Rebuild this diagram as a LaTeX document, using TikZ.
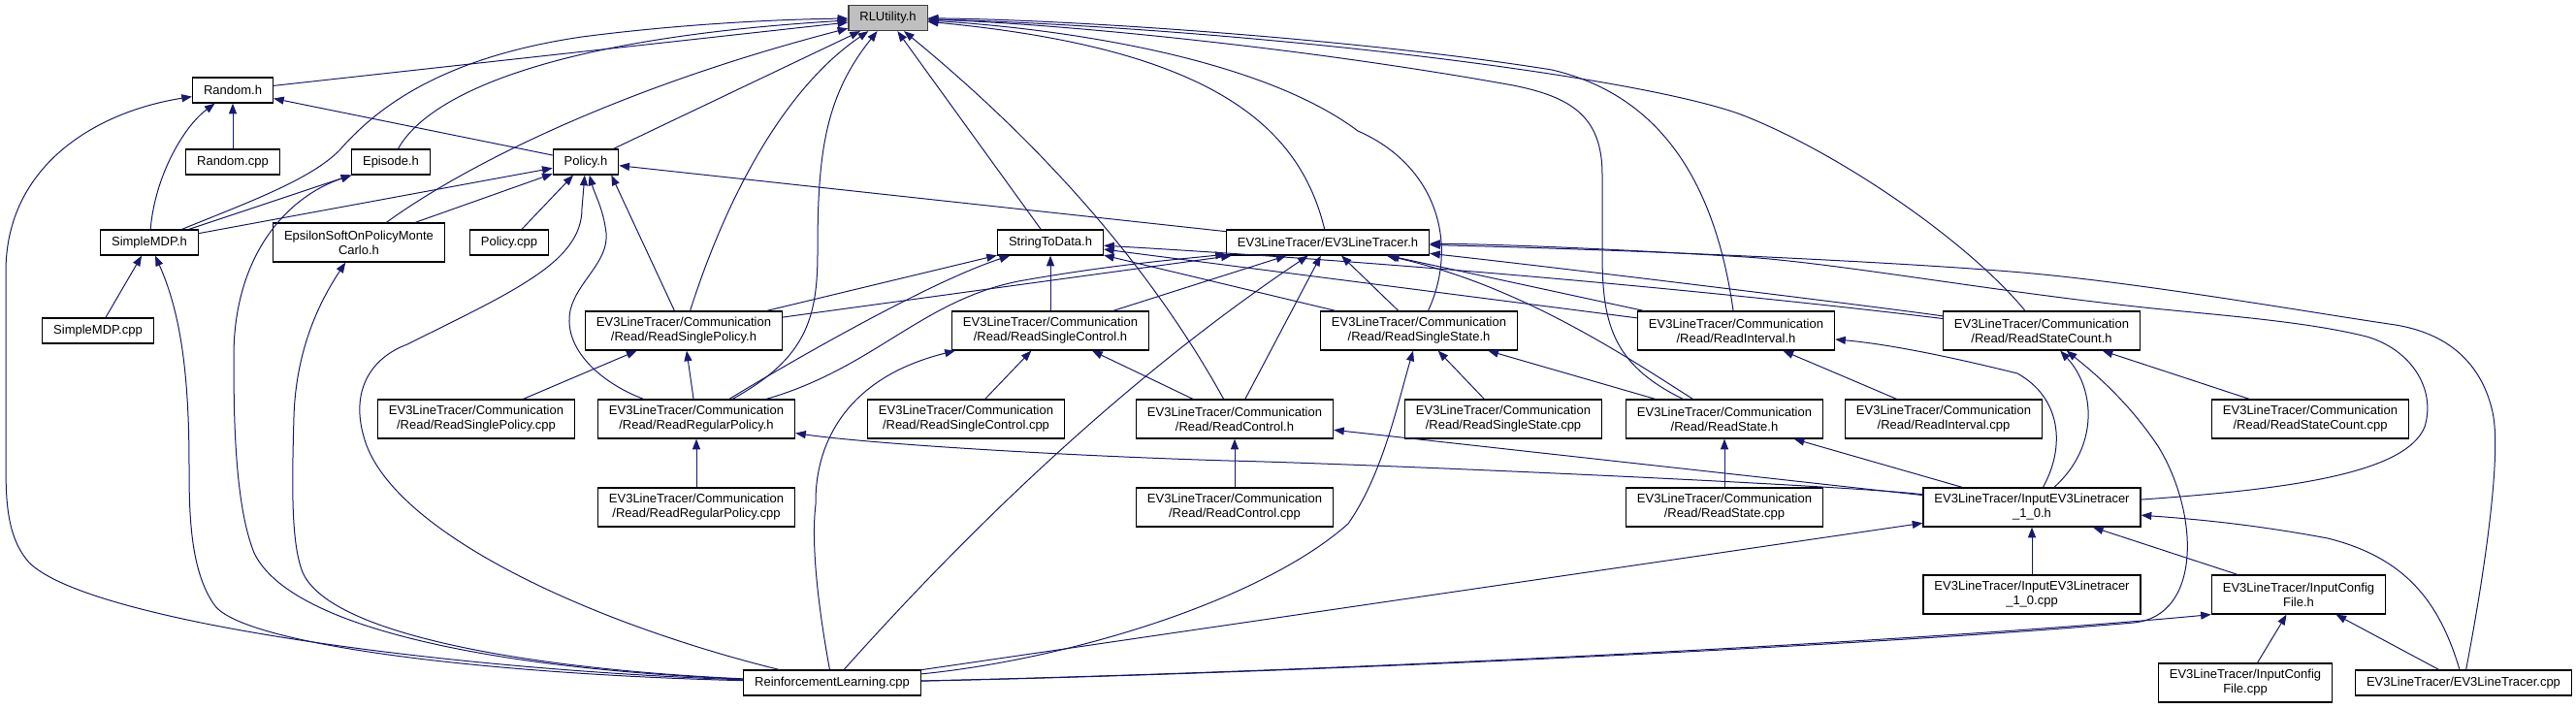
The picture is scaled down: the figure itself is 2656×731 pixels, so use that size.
\documentclass[tikz,border=0pt]{standalone}
\usepackage{fontspec}
\setmainfont{Liberation Sans}
\usetikzlibrary{arrows.meta,calc}
\definecolor{edgec}{RGB}{25,25,112}
\definecolor{rlfill}{RGB}{191,191,191}
\definecolor{rlborder}{RGB}{64,64,64}
\newcommand\cpth{EV3LineTracer/Communication\\/Read/}
\begin{document}
\begin{tikzpicture}[x=0.75pt,y=-0.75pt,
  box/.style={draw=black,line width=0.9pt,fill=white,inner xsep=8.6pt,inner ysep=0pt,minimum height=19.5pt,align=center,font=\fontsize{9.75}{11.25}\selectfont},
  dbl/.style={box,minimum height=30pt},
  focus/.style={box,fill=rlfill,draw=rlborder},
  edge/.style={draw=edgec,line width=0.75pt,-{Triangle[length=8pt,width=6pt]}}]
\useasboundingbox (0,0) rectangle (2656,731);
% nodes
\node[focus] (rl) at (915.5,18.5) {RLUtility.h};
\node[box] (rnd) at (240,93) {Random.h};
\node[box] (rndc) at (240,167) {Random.cpp};
\node[box] (epi) at (403,167) {Episode.h};
\node[box] (pol) at (604,167) {Policy.h};
\node[box] (smdp) at (154,250) {SimpleMDP.h};
\node[dbl] (eps) at (370,250) {EpsilonSoftOnPolicyMonte\\Carlo.h};
\node[box] (polc) at (525,250) {Policy.cpp};
\node[box] (std) at (1083,250) {StringToData.h};
\node[box] (ev3) at (1369,250) {EV3LineTracer/EV3LineTracer.h};
\node[box] (smdpc) at (101,341) {SimpleMDP.cpp};
\node[dbl] (rsp) at (705,341) {\cpth ReadSinglePolicy.h};
\node[dbl] (rsc) at (1083,341) {\cpth ReadSingleControl.h};
\node[dbl] (rss) at (1463,341) {\cpth ReadSingleState.h};
\node[dbl] (rint) at (1790,341) {\cpth ReadInterval.h};
\node[dbl] (rsct) at (2105,341) {\cpth ReadStateCount.h};
\node[dbl] (rspc) at (491,432) {\cpth ReadSinglePolicy.cpp};
\node[dbl] (rrp) at (718,432) {\cpth ReadRegularPolicy.h};
\node[dbl] (rscc) at (996,432) {\cpth ReadSingleControl.cpp};
\node[dbl] (rctl) at (1273,432) {\cpth ReadControl.h};
\node[dbl] (rssc) at (1550,432) {\cpth ReadSingleState.cpp};
\node[dbl] (rst) at (1778,432) {\cpth ReadState.h};
\node[dbl] (rintc) at (2004,432) {\cpth ReadInterval.cpp};
\node[dbl] (rsctc) at (2382,432) {\cpth ReadStateCount.cpp};
\node[dbl] (rrpc) at (718,523) {\cpth ReadRegularPolicy.cpp};
\node[dbl] (rctlc) at (1273,523) {\cpth ReadControl.cpp};
\node[dbl] (rstc) at (1778,523) {\cpth ReadState.cpp};
\node[dbl] (in10) at (2095,523) {EV3LineTracer/InputEV3Linetracer\\\_1\_0.h};
\node[dbl] (in10c) at (2095,613) {EV3LineTracer/InputEV3Linetracer\\\_1\_0.cpp};
\node[dbl] (icf) at (2370,613) {EV3LineTracer/InputConfig\\File.h};
\node[box] (rlc) at (858,704) {ReinforcementLearning.cpp};
\node[dbl] (icfc) at (2315,704) {EV3LineTracer/InputConfig\\File.cpp};
\node[box] (ev3c) at (2540,704) {EV3LineTracer/EV3LineTracer.cpp};
% edges into RLUtility.h
\draw[edge] (rnd) -- (rl);
\draw[edge] (smdp) .. controls (260,207) and (320,185) .. (350,155) .. controls (385,115) and (450,60) .. (600,38) .. controls (700,25) and (800,20) .. (rl);
\draw[edge] (epi) .. controls (440,100) and (560,40) .. (rl);
\draw[edge] (eps) .. controls (480,170) and (640,90) .. (rl);
\draw[edge] (pol) -- (rl);
\draw[edge] (rsp) .. controls (750,200) and (810,90) .. (rl);
\draw[edge] (rrp) .. controls (830,370) and (843,330) .. (843,260) .. controls (843,160) and (850,100) .. (rl);
\draw[edge] (std) -- (rl);
\draw[edge] (rctl) .. controls (1200,300) and (1100,170) .. (rl);
\draw[edge] (ev3) .. controls (1340,130) and (1250,50) .. (rl);
\draw[edge] (rss) .. controls (1505,250) and (1480,170) .. (1400,135) .. controls (1300,60) and (1100,30) .. (rl);
\draw[edge] (rst) .. controls (1660,375) and (1652,330) .. (1652,260) -- (1652,180) .. controls (1652,120) and (1620,100) .. (1560,88) .. controls (1350,50) and (1100,25) .. (rl);
\draw[edge] (rint) .. controls (1770,200) and (1720,100) .. (1600,72) .. controls (1400,40) and (1100,20) .. (rl);
\draw[edge] (rsct) .. controls (2030,250) and (1900,160) .. (1800,120) .. controls (1700,80) and (1300,30) .. (rl);
% Random.h
\draw[edge] (rndc) -- (rnd);
\draw[edge] (smdp) .. controls (160,180) and (190,130) .. (rnd);
\draw[edge] (pol) -- (rnd);
\draw[edge] (rlc) .. controls (450,690) and (90,640) .. (30,580) .. controls (8,555) and (6,520) .. (6,480) -- (6,280) .. controls (6,170) and (100,115) .. (rnd);
% Episode.h
\draw[edge] (smdp) -- (epi);
\draw[edge] (rlc) .. controls (520,690) and (300,650) .. (262,570) .. controls (242,520) and (241,430) .. (241,367) .. controls (241,270) and (290,205) .. (epi);
% Policy.h
\draw[edge] (smdp) -- (pol);
\draw[edge] (eps) -- (pol);
\draw[edge] (polc) -- (pol);
\draw[edge] (rlc) .. controls (600,640) and (400,545) .. (375,450) .. controls (362,405) and (380,370) .. (420,355) .. controls (530,300) and (600,270) .. (600,215) -- (pol);
\draw[edge] (rrp) .. controls (620,395) and (580,360) .. (588,320) .. controls (595,290) and (628,270) .. (625,240) .. controls (622,215) and (613,200) .. (pol);
\draw[edge] (rsp) -- ($(pol.south east)+(-8,0)$);
\draw[edge] (ev3) -- (pol);
% EpsilonSoft
\draw[edge] (rlc) .. controls (550,690) and (340,655) .. (312,590) .. controls (300,560) and (301,500) .. (303,430) .. controls (305,360) and (330,310) .. (eps);
% SimpleMDP.h
\draw[edge] (smdpc) -- (smdp);
\draw[edge] (rlc) .. controls (500,695) and (255,665) .. (222,625) .. controls (196,590) and (195,530) .. (195,480) .. controls (195,380) and (185,320) .. (smdp);
% ReadSinglePolicy.h
\draw[edge] (rspc) -- (rsp);
\draw[edge] (rrp) -- (rsp);
% StringToData.h
\draw[edge] (rsp) -- (std);
\draw[edge] (rrp) .. controls (820,370) and (960,290) .. (std);
\draw[edge] (rsc) -- (std);
\draw[edge] (rss) -- (std);
\draw[edge] (rint) -- (std);
\draw[edge] (rsct) .. controls (1950,322) and (1600,280) .. (std);
% EV3LineTracer.h
\draw[edge] (rsp) -- (ev3);
\draw[edge] (rrp) .. controls (900,380) and (950,310) .. (1050,290) .. controls (1150,272) and (1230,266) .. (ev3);
\draw[edge] (rsc) -- (ev3);
\draw[edge] (rlc) .. controls (960,590) and (1130,410) .. (ev3);
\draw[edge] (rctl) -- (ev3);
\draw[edge] (rss) -- (ev3);
\draw[edge] (rst) .. controls (1680,370) and (1570,295) .. (ev3);
\draw[edge] (rint) -- (ev3);
\draw[edge] (rsct) .. controls (1950,318) and (1600,275) .. (ev3);
\draw[edge] (in10) .. controls (2350,505) and (2480,490) .. (2500,440) .. controls (2512,400) and (2485,360) .. (2440,347) .. controls (2380,332) and (2300,326) .. (2220,318) .. controls (2050,300) and (1900,272) .. (1800,265) .. controls (1650,256) and (1550,252) .. (ev3);
\draw[edge] (ev3c) .. controls (2560,600) and (2580,470) .. (2570,425) .. controls (2560,380) and (2530,345) .. (2470,335) .. controls (2380,322) and (2200,290) .. (2073,280) .. controls (1950,270) and (1700,258) .. (ev3);
% ReadSingleControl.h
\draw[edge] (rscc) -- (rsc);
\draw[edge] (rctl) -- (rsc);
\draw[edge] (rlc) .. controls (848,650) and (835,570) .. (841,520) .. controls (840,460) and (870,390) .. ($(rsc.south west)+(4,0)$);
% ReadSingleState.h
\draw[edge] (rssc) -- (rss);
\draw[edge] (rst) -- (rss);
\draw[edge] (rlc) .. controls (1100,680) and (1300,620) .. (1390,540) .. controls (1425,490) and (1440,420) .. (rss);
% ReadInterval.h
\draw[edge] (rintc) -- (rint);
\draw[edge] (in10) .. controls (2130,460) and (2125,410) .. (2080,385) .. controls (2020,370) and (1950,355) .. (rint);
% ReadStateCount.h
\draw[edge] (rsctc) -- (rsct);
\draw[edge] (in10) .. controls (2165,460) and (2160,400) .. (rsct);
\draw[edge] (rlc) .. controls (1300,695) and (1900,668) .. (2200,642) .. controls (2270,635) and (2268,530) .. (2225,460) .. controls (2195,415) and (2160,385) .. (rsct);
% InputConfigFile.h
\draw[edge] (icfc) -- (icf);
\draw[edge] (ev3c) -- (icf);
\draw[edge] (rlc) .. controls (1400,692) and (2000,660) .. (icf.south west);
% InputEV3Linetracer_1_0.h
\draw[edge] (in10c) -- (in10);
\draw[edge] (icf) -- (in10);
\draw[edge] (ev3c) .. controls (2515,620) and (2480,575) .. (2400,555) .. controls (2320,540) and (2260,535) .. (in10);
\draw[edge] (rlc) -- (in10);
% ReadRegularPolicy.h
\draw[edge] (rrpc) -- (rrp);
\draw[edge] (in10) .. controls (1900,500) and (1400,478) .. (1267,475) .. controls (1100,470) and (900,458) .. (rrp);
% ReadControl.h
\draw[edge] (rctlc) -- (rctl);
\draw[edge] (in10) -- (rctl);
% ReadState.h
\draw[edge] (rstc) -- (rst);
\draw[edge] (in10) -- (rst);
\end{tikzpicture}
\end{document}
